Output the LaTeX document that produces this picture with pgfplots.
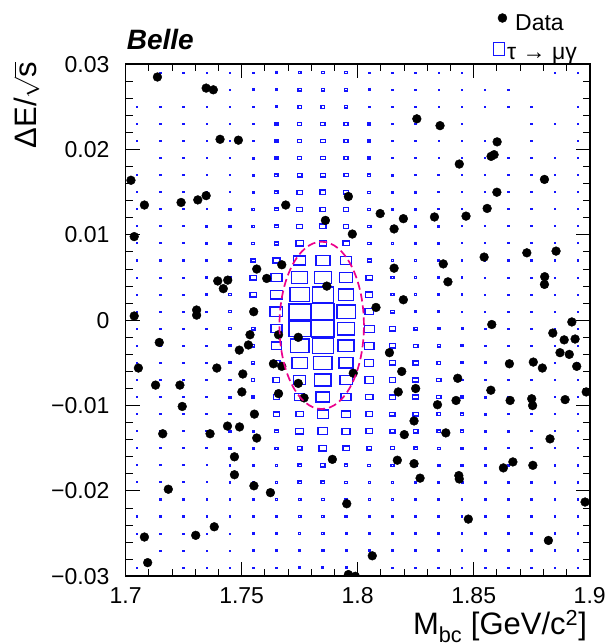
\documentclass[border=0pt]{standalone}
\usepackage{fontspec}
\setmainfont{Liberation Sans}
\usepackage{pgfplots}
\pgfplotsset{compat=1.18}
\definecolor{rootblue}{RGB}{20,20,255}

% one ROOT-style box per bin: side grows with the bin content (meta)
\pgfdeclareplotmark{cellbox}{%
  \pgfsetstrokecolor{rootblue}%
  \pgfpathrectanglecorners
    {\pgfpoint{-(\pgfplotspointmeta+1.2)*0.1742bp}{-(\pgfplotspointmeta+1.2)*0.1282bp}}
    {\pgfpoint{(\pgfplotspointmeta+1.2)*0.1742bp}{(\pgfplotspointmeta+1.2)*0.1282bp}}%
  \pgfusepathqstroke}

\begin{document}
\begin{tikzpicture}
\begin{axis}[
    scale only axis,
    width=464bp, height=512bp,
    xmin=1.7, xmax=1.9,
    ymin=-0.03, ymax=0.03,
    scaled ticks=false,
    xtick={1.7,1.75,1.8,1.85,1.9},
    xticklabels={1.7,1.75,1.8,1.85,1.9},
    ytick={-0.03,-0.02,-0.01,0,0.01,0.02,0.03},
    yticklabels={−0.03,−0.02,−0.01,0,0.01,0.02,0.03},
    minor x tick num=4, minor y tick num=4,
    tick align=inside,
    major tick length=14bp, minor tick length=7bp,
    every tick/.style={black, line width=1bp},
    axis line style={line width=1.6bp},
    tick label style={font=\fontsize{23bp}{27bp}\selectfont},
    xticklabel style={anchor=north, inner sep=0pt, yshift=-11bp},
    yticklabel style={anchor=east, inner sep=0pt, xshift=-16bp},
    xlabel={M\textsubscript{bc} [GeV/c\textsuperscript{2}]},
    ylabel={ΔE/$\sqrt{\mbox{s}}$},
    every axis x label/.style={at={(rel axis cs:0.9944,-0.1146)}, anchor=base east,
        inner sep=0pt, font=\fontsize{31bp}{35bp}\selectfont},
    every axis y label/.style={at={(rel axis cs:-0.1930,1.0049)}, rotate=90, anchor=base east,
        inner sep=0pt, font=\fontsize{31bp}{35bp}\selectfont},
    clip marker paths=true,
    reverse legend,
    legend cell align=left,
    legend style={at={(rel axis cs:0.7912,1.0994)}, anchor=north west,
        draw=none, fill=none, inner sep=0pt, outer sep=0pt,
        row sep=10.3bp, column sep=0bp,
        nodes={inner sep=0pt},
        font=\fontsize{23bp}{27bp}\selectfont},
]

% signal MC tau -> mu gamma, 20 x 30 bins
\addplot[rootblue, line width=1.3bp, only marks, mark=cellbox, scatter,
    point meta=explicit symbolic,
    scatter/@pre marker code/.code={\scope[draw=rootblue]},
    scatter/@post marker code/.code={\endscope},
    legend image code/.code={\draw[rootblue, line width=1.3bp] (0bp,-1.5bp) rectangle (11bp,11.5bp);},
    ] coordinates {
(1.715,0.029)[2] (1.725,0.029)[2] (1.735,0.029)[2] (1.745,0.029)[3] (1.755,0.029)[3] (1.765,0.029)[4] (1.775,0.029)[7] (1.785,0.029)[7] (1.795,0.029)[7] (1.805,0.029)[3] (1.815,0.029)[3] (1.825,0.029)[2] (1.835,0.029)[2] (1.845,0.029)[2] (1.885,0.029)[2] (1.895,0.029)[2]
(1.735,0.027)[2] (1.745,0.027)[3] (1.755,0.027)[4] (1.765,0.027)[5] (1.775,0.027)[8] (1.785,0.027)[8] (1.795,0.027)[7] (1.805,0.027)[4] (1.815,0.027)[3] (1.825,0.027)[3] (1.835,0.027)[2] (1.845,0.027)[2] (1.855,0.027)[2] (1.865,0.027)[2]
(1.705,0.025)[2] (1.715,0.025)[2] (1.725,0.025)[2] (1.735,0.025)[2] (1.745,0.025)[3] (1.755,0.025)[4] (1.765,0.025)[6] (1.775,0.025)[9] (1.785,0.025)[9] (1.795,0.025)[8] (1.805,0.025)[4] (1.815,0.025)[3] (1.825,0.025)[3] (1.835,0.025)[2] (1.845,0.025)[2] (1.855,0.025)[2] (1.865,0.025)[2] (1.875,0.025)[2] (1.895,0.025)[2]
(1.705,0.023)[2] (1.715,0.023)[2] (1.725,0.023)[2] (1.735,0.023)[2] (1.745,0.023)[3] (1.755,0.023)[5] (1.765,0.023)[7] (1.775,0.023)[11] (1.785,0.023)[11] (1.795,0.023)[10] (1.805,0.023)[6] (1.815,0.023)[4] (1.825,0.023)[3] (1.835,0.023)[2] (1.845,0.023)[2] (1.875,0.023)[2] (1.885,0.023)[2] (1.895,0.023)[2]
(1.705,0.021)[2] (1.715,0.021)[2] (1.725,0.021)[2] (1.735,0.021)[2] (1.745,0.021)[3] (1.755,0.021)[5] (1.765,0.021)[7] (1.775,0.021)[11] (1.785,0.021)[12] (1.795,0.021)[10] (1.805,0.021)[6] (1.815,0.021)[4] (1.825,0.021)[3] (1.835,0.021)[2] (1.845,0.021)[2] (1.855,0.021)[2] (1.875,0.021)[2] (1.895,0.021)[2]
(1.715,0.019)[2] (1.725,0.019)[2] (1.735,0.019)[2] (1.745,0.019)[3] (1.755,0.019)[5] (1.765,0.019)[7] (1.775,0.019)[11] (1.785,0.019)[12] (1.795,0.019)[10] (1.805,0.019)[7] (1.815,0.019)[4] (1.825,0.019)[3] (1.835,0.019)[2] (1.845,0.019)[2] (1.855,0.019)[2] (1.865,0.019)[2] (1.875,0.019)[2] (1.885,0.019)[2] (1.895,0.019)[2]
(1.705,0.017)[2] (1.715,0.017)[2] (1.725,0.017)[2] (1.735,0.017)[2] (1.745,0.017)[3] (1.755,0.017)[5] (1.765,0.017)[8] (1.775,0.017)[13] (1.785,0.017)[13] (1.795,0.017)[11] (1.805,0.017)[7] (1.815,0.017)[5] (1.825,0.017)[4] (1.835,0.017)[3] (1.845,0.017)[2] (1.855,0.017)[2] (1.865,0.017)[2] (1.875,0.017)[2] (1.885,0.017)[2] (1.895,0.017)[2]
(1.705,0.015)[2] (1.715,0.015)[2] (1.725,0.015)[2] (1.735,0.015)[2] (1.745,0.015)[3] (1.755,0.015)[5] (1.765,0.015)[8] (1.775,0.015)[14] (1.785,0.015)[15] (1.795,0.015)[12] (1.805,0.015)[7] (1.815,0.015)[5] (1.825,0.015)[4] (1.835,0.015)[3] (1.845,0.015)[2] (1.855,0.015)[2] (1.865,0.015)[2] (1.875,0.015)[2] (1.885,0.015)[2] (1.895,0.015)[2]
(1.705,0.013)[2] (1.715,0.013)[2] (1.725,0.013)[2] (1.735,0.013)[2] (1.745,0.013)[4] (1.755,0.013)[6] (1.765,0.013)[10] (1.775,0.013)[15] (1.785,0.013)[15] (1.795,0.013)[14] (1.805,0.013)[7] (1.815,0.013)[5] (1.825,0.013)[4] (1.835,0.013)[3] (1.845,0.013)[2] (1.855,0.013)[2] (1.865,0.013)[2] (1.875,0.013)[2] (1.885,0.013)[2] (1.895,0.013)[2]
(1.705,0.011)[2] (1.715,0.011)[2] (1.725,0.011)[2] (1.735,0.011)[3] (1.745,0.011)[4] (1.755,0.011)[6] (1.765,0.011)[10] (1.775,0.011)[15] (1.785,0.011)[17] (1.795,0.011)[14] (1.805,0.011)[8] (1.815,0.011)[5] (1.825,0.011)[4] (1.835,0.011)[3] (1.845,0.011)[2] (1.855,0.011)[2] (1.865,0.011)[2] (1.875,0.011)[2] (1.885,0.011)[2] (1.895,0.011)[2]
(1.705,0.009)[2] (1.715,0.009)[2] (1.725,0.009)[2] (1.735,0.009)[3] (1.745,0.009)[4] (1.755,0.009)[7] (1.765,0.009)[11] (1.775,0.009)[19] (1.785,0.009)[19] (1.795,0.009)[17] (1.805,0.009)[8] (1.815,0.009)[5] (1.825,0.009)[4] (1.835,0.009)[3] (1.845,0.009)[2] (1.855,0.009)[2] (1.865,0.009)[2] (1.875,0.009)[2] (1.885,0.009)[2] (1.895,0.009)[2]
(1.705,0.007)[2] (1.715,0.007)[2] (1.725,0.007)[2] (1.735,0.007)[3] (1.745,0.007)[5] (1.755,0.007)[11] (1.765,0.007)[19] (1.775,0.007)[33] (1.785,0.007)[39] (1.795,0.007)[29] (1.805,0.007)[10] (1.815,0.007)[6] (1.825,0.007)[5] (1.835,0.007)[3] (1.845,0.007)[3] (1.855,0.007)[2] (1.865,0.007)[2] (1.875,0.007)[2] (1.885,0.007)[2] (1.895,0.007)[2]
(1.705,0.005)[2] (1.715,0.005)[2] (1.725,0.005)[2] (1.735,0.005)[3] (1.745,0.005)[6] (1.755,0.005)[17] (1.765,0.005)[30] (1.775,0.005)[44] (1.785,0.005)[47] (1.795,0.005)[36] (1.805,0.005)[17] (1.815,0.005)[7] (1.825,0.005)[5] (1.835,0.005)[4] (1.845,0.005)[3] (1.855,0.005)[2] (1.865,0.005)[2] (1.875,0.005)[2] (1.885,0.005)[2] (1.895,0.005)[2]
(1.705,0.003)[2] (1.715,0.003)[2] (1.725,0.003)[2] (1.735,0.003)[3] (1.745,0.003)[6] (1.755,0.003)[17] (1.765,0.003)[33] (1.775,0.003)[55] (1.785,0.003)[59] (1.795,0.003)[43] (1.805,0.003)[19] (1.815,0.003)[7] (1.825,0.003)[5] (1.835,0.003)[4] (1.845,0.003)[3] (1.855,0.003)[2] (1.865,0.003)[2] (1.875,0.003)[2] (1.885,0.003)[2] (1.895,0.003)[2]
(1.705,0.001)[2] (1.715,0.001)[2] (1.725,0.001)[2] (1.735,0.001)[3] (1.745,0.001)[7] (1.755,0.001)[13] (1.765,0.001)[35] (1.775,0.001)[60] (1.785,0.001)[62] (1.795,0.001)[51] (1.805,0.001)[23] (1.815,0.001)[9] (1.825,0.001)[5] (1.835,0.001)[4] (1.845,0.001)[3] (1.855,0.001)[2] (1.865,0.001)[2] (1.875,0.001)[2] (1.885,0.001)[2] (1.895,0.001)[2]
(1.705,-0.001)[2] (1.715,-0.001)[2] (1.725,-0.001)[2] (1.735,-0.001)[3] (1.745,-0.001)[7] (1.755,-0.001)[9] (1.765,-0.001)[30] (1.775,-0.001)[60] (1.785,-0.001)[62] (1.795,-0.001)[48] (1.805,-0.001)[27] (1.815,-0.001)[15] (1.825,-0.001)[9] (1.835,-0.001)[5] (1.845,-0.001)[4] (1.855,-0.001)[3] (1.865,-0.001)[3] (1.875,-0.001)[3] (1.885,-0.001)[3] (1.895,-0.001)[3]
(1.705,-0.003)[2] (1.715,-0.003)[2] (1.725,-0.003)[2] (1.735,-0.003)[3] (1.745,-0.003)[6] (1.755,-0.003)[8] (1.765,-0.003)[28] (1.775,-0.003)[52] (1.785,-0.003)[59] (1.795,-0.003)[45] (1.805,-0.003)[26] (1.815,-0.003)[15] (1.825,-0.003)[12] (1.835,-0.003)[7] (1.845,-0.003)[5] (1.855,-0.003)[3] (1.865,-0.003)[3] (1.875,-0.003)[3] (1.885,-0.003)[3] (1.895,-0.003)[3]
(1.705,-0.005)[2] (1.715,-0.005)[2] (1.725,-0.005)[2] (1.735,-0.005)[3] (1.745,-0.005)[6] (1.755,-0.005)[8] (1.765,-0.005)[20] (1.775,-0.005)[43] (1.785,-0.005)[51] (1.795,-0.005)[39] (1.805,-0.005)[25] (1.815,-0.005)[16] (1.825,-0.005)[14] (1.835,-0.005)[9] (1.845,-0.005)[5] (1.855,-0.005)[5] (1.865,-0.005)[4] (1.875,-0.005)[3] (1.885,-0.005)[3] (1.895,-0.005)[3]
(1.705,-0.007)[2] (1.715,-0.007)[2] (1.725,-0.007)[2] (1.735,-0.007)[3] (1.745,-0.007)[5] (1.755,-0.007)[8] (1.765,-0.007)[18] (1.775,-0.007)[34] (1.785,-0.007)[46] (1.795,-0.007)[34] (1.805,-0.007)[24] (1.815,-0.007)[16] (1.825,-0.007)[15] (1.835,-0.007)[11] (1.845,-0.007)[5] (1.855,-0.007)[5] (1.865,-0.007)[3] (1.875,-0.007)[3] (1.885,-0.007)[3] (1.895,-0.007)[3]
(1.705,-0.009)[2] (1.715,-0.009)[2] (1.725,-0.009)[2] (1.735,-0.009)[3] (1.745,-0.009)[5] (1.755,-0.009)[7] (1.765,-0.009)[17] (1.775,-0.009)[27] (1.785,-0.009)[38] (1.795,-0.009)[28] (1.805,-0.009)[20] (1.815,-0.009)[16] (1.825,-0.009)[15] (1.835,-0.009)[11] (1.845,-0.009)[7] (1.855,-0.009)[5] (1.865,-0.009)[3] (1.875,-0.009)[3] (1.885,-0.009)[3] (1.895,-0.009)[3]
(1.705,-0.011)[2] (1.715,-0.011)[2] (1.725,-0.011)[2] (1.735,-0.011)[3] (1.745,-0.011)[4] (1.755,-0.011)[6] (1.765,-0.011)[15] (1.775,-0.011)[20] (1.785,-0.011)[31] (1.795,-0.011)[23] (1.805,-0.011)[17] (1.815,-0.011)[14] (1.825,-0.011)[14] (1.835,-0.011)[9] (1.845,-0.011)[7] (1.855,-0.011)[5] (1.865,-0.011)[3] (1.875,-0.011)[3] (1.885,-0.011)[3] (1.895,-0.011)[3]
(1.705,-0.013)[2] (1.715,-0.013)[2] (1.725,-0.013)[2] (1.735,-0.013)[3] (1.745,-0.013)[4] (1.755,-0.013)[5] (1.765,-0.013)[9] (1.775,-0.013)[21] (1.785,-0.013)[27] (1.795,-0.013)[22] (1.805,-0.013)[18] (1.815,-0.013)[13] (1.825,-0.013)[12] (1.835,-0.013)[9] (1.845,-0.013)[7] (1.855,-0.013)[5] (1.865,-0.013)[4] (1.875,-0.013)[3] (1.885,-0.013)[3] (1.895,-0.013)[3]
(1.705,-0.015)[2] (1.715,-0.015)[2] (1.725,-0.015)[2] (1.735,-0.015)[3] (1.745,-0.015)[4] (1.755,-0.015)[5] (1.765,-0.015)[7] (1.775,-0.015)[13] (1.785,-0.015)[21] (1.795,-0.015)[17] (1.805,-0.015)[12] (1.815,-0.015)[10] (1.825,-0.015)[8] (1.835,-0.015)[7] (1.845,-0.015)[5] (1.855,-0.015)[4] (1.865,-0.015)[3] (1.875,-0.015)[3] (1.885,-0.015)[3] (1.895,-0.015)[3]
(1.705,-0.017)[2] (1.715,-0.017)[2] (1.725,-0.017)[2] (1.735,-0.017)[2] (1.745,-0.017)[3] (1.755,-0.017)[4] (1.765,-0.017)[6] (1.775,-0.017)[9] (1.785,-0.017)[11] (1.795,-0.017)[9] (1.805,-0.017)[7] (1.815,-0.017)[7] (1.825,-0.017)[6] (1.835,-0.017)[5] (1.845,-0.017)[5] (1.855,-0.017)[4] (1.865,-0.017)[3] (1.875,-0.017)[3] (1.885,-0.017)[3] (1.895,-0.017)[3]
(1.705,-0.019)[2] (1.715,-0.019)[2] (1.725,-0.019)[2] (1.735,-0.019)[2] (1.745,-0.019)[3] (1.755,-0.019)[3] (1.765,-0.019)[6] (1.775,-0.019)[9] (1.785,-0.019)[9] (1.795,-0.019)[7] (1.805,-0.019)[5] (1.815,-0.019)[5] (1.825,-0.019)[4] (1.835,-0.019)[4] (1.845,-0.019)[4] (1.855,-0.019)[3] (1.865,-0.019)[3] (1.875,-0.019)[3] (1.885,-0.019)[3] (1.895,-0.019)[3]
(1.715,-0.021)[2] (1.725,-0.021)[2] (1.735,-0.021)[2] (1.745,-0.021)[3] (1.755,-0.021)[3] (1.765,-0.021)[5] (1.775,-0.021)[7] (1.785,-0.021)[7] (1.795,-0.021)[5] (1.805,-0.021)[5] (1.815,-0.021)[5] (1.825,-0.021)[4] (1.835,-0.021)[4] (1.845,-0.021)[3] (1.855,-0.021)[3] (1.865,-0.021)[3] (1.875,-0.021)[3] (1.885,-0.021)[3] (1.895,-0.021)[3]
(1.705,-0.023)[2] (1.715,-0.023)[2] (1.725,-0.023)[2] (1.735,-0.023)[2] (1.745,-0.023)[2] (1.755,-0.023)[3] (1.765,-0.023)[4] (1.775,-0.023)[6] (1.785,-0.023)[6] (1.795,-0.023)[5] (1.805,-0.023)[4] (1.815,-0.023)[4] (1.825,-0.023)[3] (1.835,-0.023)[3] (1.845,-0.023)[3] (1.855,-0.023)[3] (1.865,-0.023)[3] (1.875,-0.023)[3] (1.885,-0.023)[3] (1.895,-0.023)[3]
(1.705,-0.025)[2] (1.715,-0.025)[2] (1.725,-0.025)[2] (1.735,-0.025)[2] (1.745,-0.025)[2] (1.755,-0.025)[3] (1.765,-0.025)[4] (1.775,-0.025)[5] (1.785,-0.025)[5] (1.795,-0.025)[4] (1.805,-0.025)[4] (1.815,-0.025)[3] (1.825,-0.025)[3] (1.835,-0.025)[3] (1.845,-0.025)[3] (1.855,-0.025)[3] (1.865,-0.025)[3] (1.875,-0.025)[3] (1.885,-0.025)[3] (1.895,-0.025)[3]
(1.715,-0.027)[2] (1.725,-0.027)[2] (1.735,-0.027)[2] (1.745,-0.027)[2] (1.755,-0.027)[3] (1.765,-0.027)[3] (1.775,-0.027)[5] (1.785,-0.027)[5] (1.795,-0.027)[4] (1.805,-0.027)[3] (1.815,-0.027)[3] (1.825,-0.027)[3] (1.835,-0.027)[3] (1.845,-0.027)[3] (1.855,-0.027)[3] (1.865,-0.027)[3] (1.875,-0.027)[3] (1.885,-0.027)[3] (1.895,-0.027)[3]
(1.705,-0.029)[2] (1.725,-0.029)[2] (1.735,-0.029)[2] (1.745,-0.029)[2] (1.755,-0.029)[3] (1.765,-0.029)[3] (1.775,-0.029)[4] (1.785,-0.029)[4] (1.795,-0.029)[4] (1.815,-0.029)[3] (1.825,-0.029)[3] (1.835,-0.029)[3] (1.845,-0.029)[3] (1.855,-0.029)[3] (1.865,-0.029)[3] (1.875,-0.029)[3] (1.885,-0.029)[3] (1.895,-0.029)[3]
};

% data events
\addplot[only marks, mark=*, mark size=4.4bp, black,
    legend image code/.code={\fill[black] (9bp,5bp) circle (4.5bp);},
    ] coordinates {
(1.7137,0.0285) (1.7347,0.0272) (1.7378,0.0270) (1.7407,0.0212) (1.7486,0.0211)
(1.7023,0.0164) (1.7081,0.0135) (1.7239,0.0138) (1.7311,0.0141) (1.7347,0.0146)
(1.7690,0.0135) (1.7960,0.0145) (1.7861,0.0117) (1.7977,0.0101) (1.7037,0.0098)
(1.7565,0.0060) (1.7673,0.0065) (1.7397,0.0046) (1.7440,0.0047) (1.7421,0.0037)
(1.7608,0.0049) (1.7867,0.0040)
(1.8255,0.0236) (1.8355,0.0228) (1.8601,0.0209) (1.8575,0.0192) (1.8588,0.0194)
(1.8438,0.0183) (1.8805,0.0165) (1.8600,0.0150) (1.8097,0.0125) (1.8197,0.0119)
(1.8331,0.0121) (1.8467,0.0122) (1.8558,0.0131) (1.8157,0.0107) (1.8729,0.0079)
(1.8855,0.0081) (1.8545,0.0074) (1.8369,0.0066) (1.8157,0.0061) (1.8806,0.0051)
(1.8805,0.0042) (1.8389,0.0045) (1.8197,0.0024) (1.8079,0.0015)
(1.7037,0.0005) (1.7306,0.0012) (1.7306,0.0006) (1.7552,0.0010) (1.7145,-0.0026)
(1.7536,-0.0017) (1.7529,-0.0029) (1.7490,-0.0035) (1.7659,-0.0017) (1.7744,-0.0020)
(1.7055,-0.0056) (1.7393,-0.0056) (1.7637,-0.0051) (1.7673,-0.0054) (1.7505,-0.0063)
(1.7981,-0.0062) (1.7129,-0.0076) (1.7234,-0.0076) (1.7501,-0.0084) (1.7744,-0.0074)
(1.7659,-0.0086) (1.7769,-0.0091) (1.7244,-0.0101) (1.7555,-0.0110) (1.7439,-0.0124)
(1.7491,-0.0125) (1.7160,-0.0133) (1.7364,-0.0133) (1.7565,-0.0138) (1.7891,-0.0163)
(1.7469,-0.0160) (1.7469,-0.0181) (1.7553,-0.0194) (1.7624,-0.0202) (1.7184,-0.0198)
(1.7953,-0.0215) (1.7382,-0.0242) (1.7302,-0.0252) (1.7081,-0.0254) (1.7095,-0.0284)
(1.7960,-0.0298) (1.7990,-0.0300)
(1.8578,-0.0005) (1.8923,-0.0002) (1.8841,-0.0015) (1.8890,-0.0023) (1.8937,-0.0022)
(1.8872,-0.0038) (1.8912,-0.0040) (1.8944,-0.0054) (1.8137,-0.0038) (1.8654,-0.0051)
(1.8757,-0.0049) (1.8796,-0.0056) (1.8190,-0.0060) (1.8431,-0.0068) (1.8175,-0.0084)
(1.8250,-0.0080) (1.8574,-0.0082) (1.8985,-0.0084) (1.8344,-0.0099) (1.8424,-0.0094)
(1.8657,-0.0094) (1.8750,-0.0092) (1.8754,-0.0100) (1.8894,-0.0093) (1.8243,-0.0118)
(1.8201,-0.0134) (1.8380,-0.0132) (1.8829,-0.0139) (1.8171,-0.0164) (1.8243,-0.0168)
(1.8269,-0.0185) (1.8436,-0.0182) (1.8438,-0.0186) (1.8628,-0.0173) (1.8669,-0.0166)
(1.8755,-0.0170) (1.8980,-0.0213) (1.8477,-0.0233) (1.8822,-0.0258) (1.8063,-0.0276)
};

\legend{{τ → μγ},{\hspace*{8bp}Data}}

% signal region
\draw[magenta, line width=1.7bp, dash pattern=on 8bp off 4bp]
    (axis cs:1.7845,-0.0006) ellipse [x radius=0.0182, y radius=0.0098];
\end{axis}

\node[anchor=base west, inner sep=0pt, font=\bfseries\itshape\fontsize{28bp}{31bp}\selectfont]
    at ([shift={(1bp,14.9bp)}]current axis.north west) {Belle};
\path ([shift={(-125.6bp,-67.7bp)}]current axis.south west)
    rectangle ([shift={(18.4bp,64.2bp)}]current axis.north east);
\end{tikzpicture}
\end{document}
